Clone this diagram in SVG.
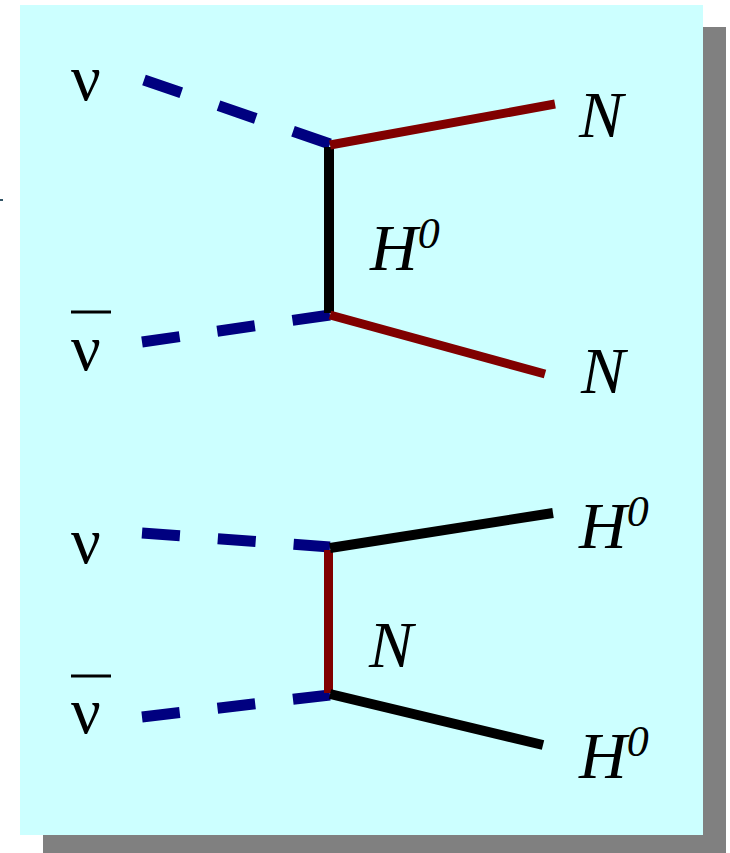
<svg xmlns="http://www.w3.org/2000/svg" width="730" height="853" viewBox="0 0 730 853">
<style>
.lbl{font-family:"Liberation Serif","Times New Roman",serif;font-size:66px;fill:#000}
.it{font-style:italic}
.sup{font-size:44px}
.nu{stroke:#000080;stroke-width:11;fill:none}
.h{stroke:#000;stroke-width:10;fill:none}
.n{stroke:#800000;stroke-width:9;fill:none}
.bar{stroke:#000;stroke-width:3}
</style>
<rect x="0" y="0" width="730" height="853" fill="#fff"/>
<rect x="0" y="199" width="3" height="2" fill="#335566"/>
<rect id="shadow" x="43" y="27" width="683" height="826" fill="#808080"/>
<rect id="panel" x="20" y="5" width="683" height="830" fill="#ccffff"/>
<g id="connectors">
  <line class="nu" x1="144" y1="80" x2="330" y2="144" stroke-dasharray="39.4 39.4"/>
  <line class="nu" x1="142" y1="342" x2="330" y2="315" stroke-dasharray="38 38"/>
  <line class="h" x1="329" y1="147" x2="329" y2="313"/>
  <line class="n" x1="330" y1="145" x2="555" y2="104"/>
  <line class="n" x1="330" y1="315" x2="545" y2="374"/>
  <line class="nu" x1="142" y1="533" x2="330" y2="547" stroke-dasharray="38 38"/>
  <line class="nu" x1="142" y1="717" x2="330" y2="695" stroke-dasharray="38 38"/>
  <line class="n" x1="328.5" y1="550" x2="328.5" y2="693"/>
  <line class="h" x1="330" y1="548" x2="553" y2="513"/>
  <line class="h" x1="330" y1="694" x2="543" y2="745"/>
</g>
<g id="nu1"><text class="lbl" x="71" y="100">ν</text></g>
<g id="nubar1"><line class="bar" x1="71" y1="312" x2="111" y2="312"/><text class="lbl" x="71" y="370">ν</text></g>
<g id="N1"><text class="lbl it" x="579" y="137">N</text></g>
<g id="N2"><text class="lbl it" x="581" y="393">N</text></g>
<g id="H1"><text class="lbl it" x="370" y="270">H<tspan class="sup" dy="-22">0</tspan></text></g>
<g id="nu2"><text class="lbl" x="71" y="563">ν</text></g>
<g id="nubar2"><line class="bar" x1="71" y1="676" x2="111" y2="676"/><text class="lbl" x="71" y="733">ν</text></g>
<g id="N3"><text class="lbl it" x="369" y="667">N</text></g>
<g id="H2"><text class="lbl it" x="579" y="548">H<tspan class="sup" dy="-22">0</tspan></text></g>
<g id="H3"><text class="lbl it" x="579" y="778">H<tspan class="sup" dy="-22">0</tspan></text></g>
</svg>
